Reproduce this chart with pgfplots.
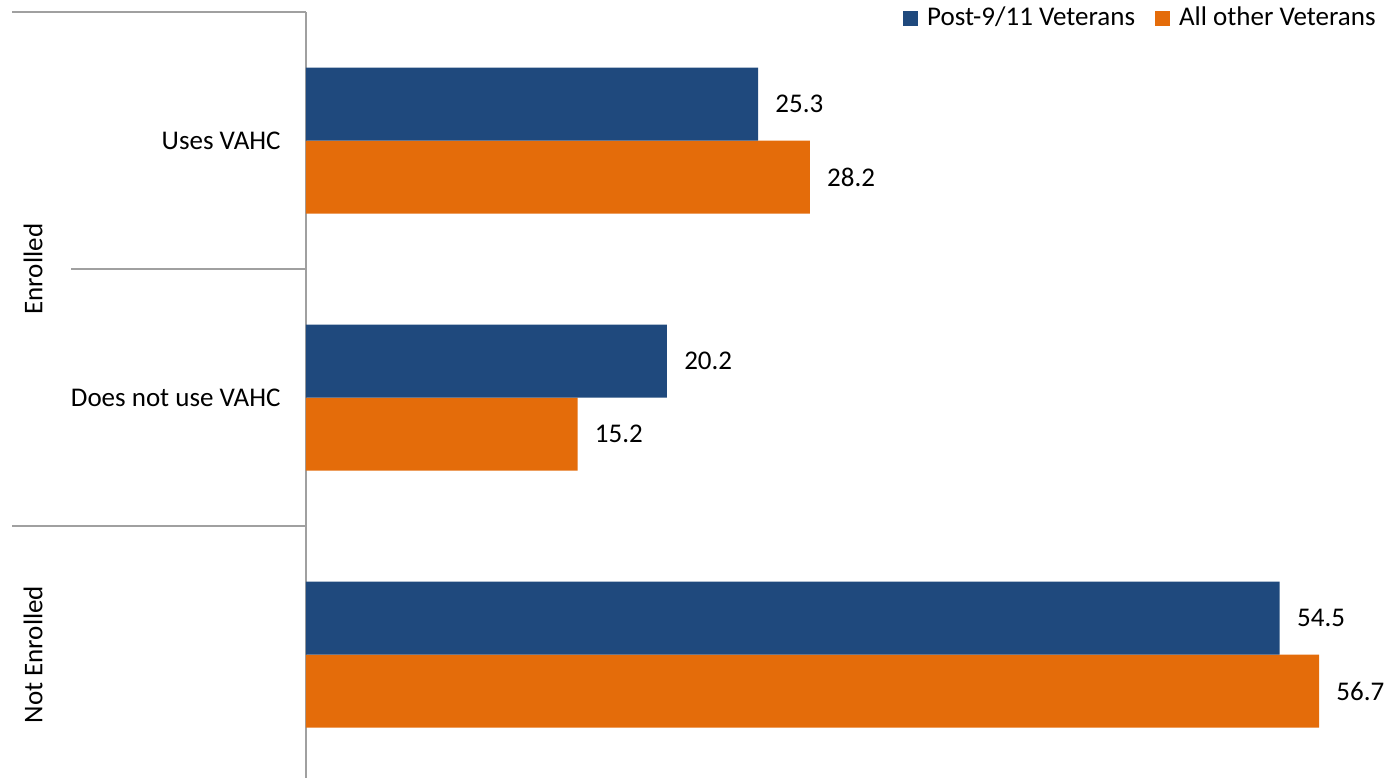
\documentclass[border=0pt]{standalone}
\usepackage{fontspec}
\setmainfont{Carlito}
\usepackage{pgfplots}
\pgfplotsset{compat=1.18}
\definecolor{vblue}{HTML}{1F497D}
\definecolor{vorange}{HTML}{E46C0A}
\definecolor{lgray}{HTML}{A0A0A0}
\begin{document}
\fontsize{13.5}{16}\selectfont
\begin{tikzpicture}[font=\fontsize{13.5}{16}\selectfont]
\useasboundingbox (0,0) rectangle (693pt,389pt);
\begin{axis}[
  at={(153pt,0pt)}, anchor=south west,
  width=536pt, height=383pt, scale only axis,
  xbar=0pt, bar width=36.5pt,
  xmin=0, xmax=60,
  y dir=reverse, ymin=-0.5, ymax=2.48,
  axis x line=none,
  axis y line*=left,
  y axis line style={draw=lgray, line width=1pt, -},
  ytick={0,1}, yticklabels={Uses VAHC, Does not use VAHC},
  major tick length=0pt,
  yticklabel style={inner sep=0pt, anchor=east, xshift=-12.5pt, text=black},
  nodes near coords, nodes near coords align=horizontal,
  every node near coord/.append style={text=black, anchor=west, inner sep=0pt, xshift=8.5pt},
  /pgf/number format/.cd, fixed, fixed zerofill, precision=1, assume math mode=true, /pgfplots/.cd,
  legend columns=2, reverse legend,
  legend style={draw=none, fill=none, at={(1,1)}, anchor=east, yshift=-3.25pt, xshift=1pt, inner sep=0pt,
    /tikz/every odd column/.append style={column sep=2.5pt},
    /tikz/every even column/.append style={column sep=8pt}},
  legend image code/.code={\fill (0pt,-3.75pt) rectangle (7.5pt,3.75pt);},
  clip=false,
]
\addplot[fill=vorange, draw=none] coordinates {(28.2,0) (15.2,1) (56.7,2)};
\addplot[fill=vblue, draw=none] coordinates {(25.3,0) (20.2,1) (54.5,2)};
\legend{All other Veterans, Post-9/11 Veterans}
\draw[lgray, line width=0.75pt] (axis cs:0,-0.5) -- ([xshift=-147pt]axis cs:0,-0.5);
\draw[lgray, line width=0.75pt] (axis cs:0,0.5) -- ([xshift=-117.5pt]axis cs:0,0.5);
\draw[lgray, line width=0.75pt] (axis cs:0,1.5) -- ([xshift=-147pt]axis cs:0,1.5);
\node[rotate=90] at ([xshift=-136.5pt]axis cs:0,0.5) {Enrolled};
\node[rotate=90] at ([xshift=-136.5pt]axis cs:0,2) {Not Enrolled};
\end{axis}
\end{tikzpicture}
\end{document}
